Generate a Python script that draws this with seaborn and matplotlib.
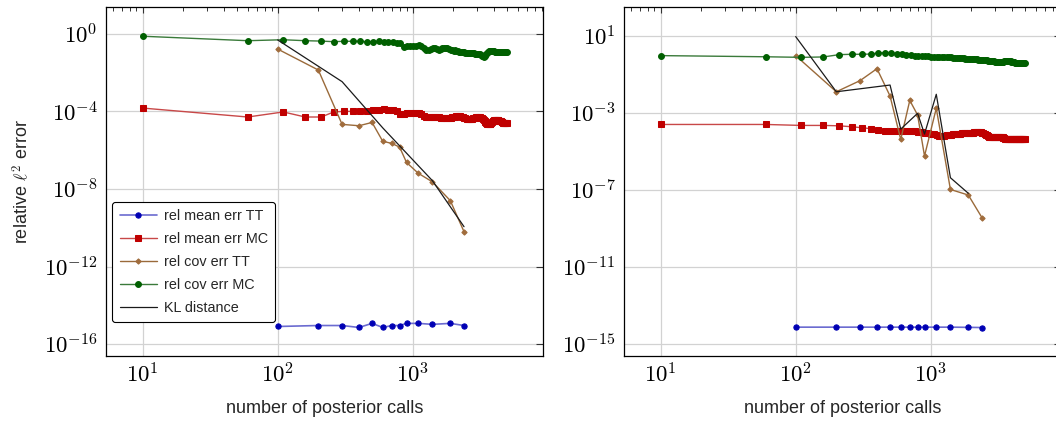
import numpy as np
import matplotlib
matplotlib.use("Agg")
import matplotlib.pyplot as plt
import seaborn as sns
from matplotlib.ticker import FixedLocator, FuncFormatter, LogLocator, NullFormatter

# Monte Carlo sample counts (same grid in both panels)
mc_calls = [
    10, 60, 110, 160, 210, 260, 310, 360, 410, 460,
    510, 560, 610, 660, 710, 760, 810, 860, 910, 960,
    1010, 1060, 1110, 1160, 1210, 1260, 1310, 1360, 1410, 1460,
    1510, 1560, 1610, 1660, 1710, 1760, 1810, 1860, 1910, 1960,
    2010, 2060, 2110, 2160, 2210, 2260, 2310, 2360, 2410, 2460,
    2510, 2560, 2610, 2660, 2710, 2760, 2810, 2860, 2910, 2960,
    3010, 3060, 3110, 3160, 3210, 3260, 3310, 3360, 3410, 3460,
    3510, 3560, 3610, 3660, 3710, 3760, 3810, 3860, 3910, 3960,
    4010, 4060, 4110, 4160, 4210, 4260, 4310, 4360, 4410, 4460,
    4510, 4560, 4610, 4660, 4710, 4760, 4810, 4860, 4910, 4960,
]
tt_calls = [100, 200, 300, 400, 500, 600, 700, 800, 900, 1100, 1400, 1900, 2400]

# ---- left panel (log10 of errors) ----
left_mean_tt = [-15.08, -15.03, -15.03, -15.13, -14.92, -15.13, -15.03,
                -15.03, -14.92, -14.92, -14.97, -14.92, -15.03]
left_cov_tt = [-0.79, -1.87, -4.67, -4.74, -4.57, -5.54, -5.65,
               -5.84, -6.63, -7.19, -7.63, -8.60, -10.2]
left_kl_calls = [100, 300, 600, 1400, 2400]
left_kl = [-0.32, -2.47, -4.85, -7.57, -9.94]
left_mean_mc = [
    -3.83, -4.29, -4.03, -4.29, -4.29, -4.03, -4.00, -4.00, -4.00, -3.98,
    -3.95, -3.91, -3.90, -3.92, -3.94, -3.98, -4.12, -4.15, -4.10, -4.07,
    -4.07, -4.08, -4.10, -4.14, -4.22, -4.28, -4.28, -4.27, -4.27, -4.28,
    -4.28, -4.30, -4.32, -4.34, -4.35, -4.36, -4.36, -4.35, -4.33, -4.31,
    -4.29, -4.27, -4.25, -4.24, -4.24, -4.25, -4.27, -4.30, -4.33, -4.36,
    -4.38, -4.40, -4.41, -4.41, -4.40, -4.38, -4.36, -4.34, -4.32, -4.30,
    -4.29, -4.28, -4.28, -4.29, -4.32, -4.36, -4.41, -4.46, -4.51, -4.56,
    -4.60, -4.63, -4.65, -4.66, -4.65, -4.63, -4.59, -4.55, -4.51, -4.48,
    -4.46, -4.45, -4.44, -4.44, -4.45, -4.46, -4.47, -4.48, -4.49, -4.50,
    -4.52, -4.54, -4.56, -4.58, -4.59, -4.60, -4.61, -4.62, -4.62, -4.62,
]
left_cov_mc = [
    -0.13, -0.36, -0.31, -0.36, -0.38, -0.41, -0.39, -0.39, -0.39, -0.41,
    -0.42, -0.40, -0.42, -0.44, -0.45, -0.47, -0.50, -0.67, -0.64, -0.62,
    -0.61, -0.62, -0.60, -0.62, -0.72, -0.86, -0.85, -0.79, -0.75, -0.76,
    -0.80, -0.82, -0.78, -0.74, -0.73, -0.75, -0.76, -0.79, -0.83, -0.86,
    -0.87, -0.86, -0.88, -0.90, -0.92, -0.94, -0.93, -0.92, -0.95, -0.97,
    -0.99, -1.00, -1.01, -1.01, -0.99, -0.97, -0.98, -1.01, -1.03, -1.04,
    -1.05, -1.06, -1.05, -1.06, -1.09, -1.13, -1.17, -1.18, -1.14, -1.08,
    -1.03, -0.98, -0.94, -0.91, -0.89, -0.88, -0.88, -0.88, -0.89, -0.90,
    -0.91, -0.93, -0.94, -0.93, -0.92, -0.92, -0.93, -0.93, -0.93, -0.94,
    -0.95, -0.96, -0.95, -0.95, -0.95, -0.96, -0.96, -0.96, -0.96, -0.96,
]

# ---- right panel (log10 of errors) ----
right_mean_tt = [-14.14, -14.14, -14.14, -14.14, -14.14, -14.14, -14.14,
                 -14.14, -14.14, -14.14, -14.14, -14.15, -14.16]
right_cov_tt = [-0.02, -1.90, -1.32, -0.70, -2.12, -4.38, -2.35,
                -3.11, -5.24, -2.76, -6.98, -7.27, -8.45]
right_kl_calls = [100, 200, 500, 600, 800, 900, 1100, 1400, 1900]
right_kl = [0.97, -1.90, -1.55, -3.84, -3.02, -4.10, -2.03, -6.37, -7.18]
right_mean_mc = [
    -3.60, -3.60, -3.65, -3.65, -3.67, -3.72, -3.77, -3.82, -3.89, -3.94,
    -3.94, -3.95, -3.95, -3.95, -3.95, -3.96, -3.97, -3.99, -4.02, -4.05,
    -4.08, -4.12, -4.16, -4.19, -4.20, -4.19, -4.17, -4.15, -4.13, -4.11,
    -4.10, -4.09, -4.08, -4.07, -4.06, -4.05, -4.05, -4.04, -4.03, -4.03,
    -4.02, -4.02, -4.01, -4.01, -4.00, -4.00, -4.00, -4.01, -4.03, -4.06,
    -4.09, -4.13, -4.17, -4.21, -4.24, -4.25, -4.25, -4.25, -4.25, -4.24,
    -4.24, -4.24, -4.24, -4.24, -4.24, -4.24, -4.24, -4.25, -4.26, -4.29,
    -4.32, -4.34, -4.35, -4.35, -4.35, -4.35, -4.35, -4.35, -4.35, -4.35,
    -4.35, -4.35, -4.36, -4.36, -4.36, -4.36, -4.36, -4.36, -4.36, -4.36,
    -4.36, -4.36, -4.36, -4.36, -4.36, -4.36, -4.36, -4.36, -4.36, -4.36,
]
right_cov_mc = [
    -0.02, -0.08, -0.11, -0.09, 0.03, 0.05, 0.05, 0.06, 0.12, 0.13,
    0.12, 0.08, 0.04, 0.02, 0.00, -0.02, -0.03, -0.04, -0.05, -0.06,
    -0.07, -0.08, -0.08, -0.09, -0.09, -0.10, -0.10, -0.11, -0.11, -0.12,
    -0.13, -0.13, -0.14, -0.15, -0.15, -0.16, -0.17, -0.17, -0.18, -0.19,
    -0.19, -0.20, -0.21, -0.21, -0.22, -0.23, -0.23, -0.24, -0.25, -0.25,
    -0.26, -0.27, -0.27, -0.28, -0.29, -0.29, -0.30, -0.31, -0.31, -0.32,
    -0.33, -0.33, -0.34, -0.35, -0.35, -0.36, -0.36, -0.35, -0.34, -0.33,
    -0.32, -0.31, -0.31, -0.30, -0.30, -0.30, -0.31, -0.31, -0.32, -0.33,
    -0.34, -0.35, -0.36, -0.37, -0.38, -0.38, -0.39, -0.39, -0.40, -0.40,
    -0.41, -0.41, -0.41, -0.42, -0.42, -0.42, -0.43, -0.43, -0.43, -0.43,
]

left_yticks = [0, -4, -8, -12, -16]
right_yticks = [1, -3, -7, -11, -15]
x_ticks = [1, 2, 3]

# %%
sns.set_theme(style="whitegrid", rc={
    "grid.color": "#d2d2d2",
    "grid.linewidth": 0.9,
    "axes.edgecolor": "black",
    "axes.linewidth": 0.9,
    "xtick.direction": "in",
    "ytick.direction": "in",
})
plt.rcParams["font.family"] = ["Liberation Sans", "DejaVu Sans"]
plt.rcParams["mathtext.fontset"] = "cm"

fig = plt.figure(figsize=(10.56, 4.21), dpi=100)
ax_l = fig.add_axes([106 / 1056, 1 - 356 / 421, 437 / 1056, 349 / 421])
ax_r = fig.add_axes([624 / 1056, 1 - 356 / 421, 437 / 1056, 349 / 421])

styles = {
    "rel mean err TT": dict(color="#6b6bd0", marker="o", markersize=3.8,
                            markerfacecolor="#0000b4", markeredgecolor="#0000b4", linewidth=1.2),
    "rel mean err MC": dict(color="#c84848", marker="s", markersize=4.2,
                            markerfacecolor="#c00000", markeredgecolor="#c00000", linewidth=1.0),
    "rel cov err TT": dict(color="#9a6a3a", marker="D", markersize=2.7,
                           markerfacecolor="#a06c3c", markeredgecolor="#a06c3c", linewidth=1.0),
    "rel cov err MC": dict(color="#3a7a3a", marker="o", markersize=4.2,
                           markerfacecolor="#005f00", markeredgecolor="#005f00", linewidth=1.0),
    "KL distance": dict(color="#1a1a1a", linewidth=0.9),
}


def draw(ax, mean_tt, mean_mc, cov_tt, cov_mc, kl_calls, kl):
    series = [
        ("rel mean err TT", tt_calls, mean_tt),
        ("rel mean err MC", mc_calls, mean_mc),
        ("rel cov err TT", tt_calls, cov_tt),
        ("rel cov err MC", mc_calls, cov_mc),
        ("KL distance", kl_calls, kl),
    ]
    for name, xs, ys in series:
        sns.lineplot(x=np.array(xs), y=10 ** np.array(ys), ax=ax, label=name,
                     estimator=None, sort=False, **styles[name])
    ax.set_xscale("log")
    ax.set_yscale("log")
    ax.set_xlim(5.35, 9230)
    ax.xaxis.set_major_locator(FixedLocator([10 ** e for e in x_ticks]))
    ax.xaxis.set_minor_locator(LogLocator(base=10, subs=np.arange(2, 10)))
    ax.xaxis.set_minor_formatter(NullFormatter())
    fmt = FuncFormatter(lambda v, p: r"$10^{%d}$" % round(np.log10(v)))
    ax.xaxis.set_major_formatter(fmt)
    ax.yaxis.set_major_formatter(fmt)
    ax.yaxis.set_minor_locator(FixedLocator([]))
    ax.tick_params(which="both", top=True, right=True, color="#333333",
                   labelsize=16.5, labelcolor="black")
    ax.tick_params(axis="x", which="major", length=4.5, width=0.8, pad=5)
    ax.tick_params(axis="x", which="minor", length=3.2, width=0.7)
    ax.tick_params(axis="y", which="major", length=5, width=0.8, pad=6)
    ax.grid(True, which="major")
    ax.grid(False, which="minor")
    ax.set_xlabel("number of posterior calls", fontsize=13, labelpad=9)
    ax.set_ylabel("")
    for s in ax.spines.values():
        s.set_color("black")


draw(ax_l, left_mean_tt, left_mean_mc, left_cov_tt, left_cov_mc, left_kl_calls, left_kl)
ax_l.set_ylim(10 ** -16.6, 10 ** 1.376)
ax_l.yaxis.set_major_locator(FixedLocator([10.0 ** e for e in left_yticks]))
ax_l.set_ylabel(r"relative $\ell^2$ error", fontsize=13, labelpad=8)
leg = ax_l.legend(loc="upper left", bbox_to_anchor=(0.0144, 0.442), borderaxespad=0,
                  fontsize=10.4, frameon=True, fancybox=True, edgecolor="black",
                  framealpha=1, handlelength=2.6, labelspacing=0.62,
                  borderpad=0.5, handletextpad=0.45)
leg.get_frame().set_linewidth(0.8)

draw(ax_r, right_mean_tt, right_mean_mc, right_cov_tt, right_cov_mc, right_kl_calls, right_kl)
ax_r.set_ylim(10 ** -15.64, 10 ** 2.508)
ax_r.yaxis.set_major_locator(FixedLocator([10.0 ** e for e in right_yticks]))
ax_r.get_legend().remove()

fig.savefig("out.png", dpi=100)
